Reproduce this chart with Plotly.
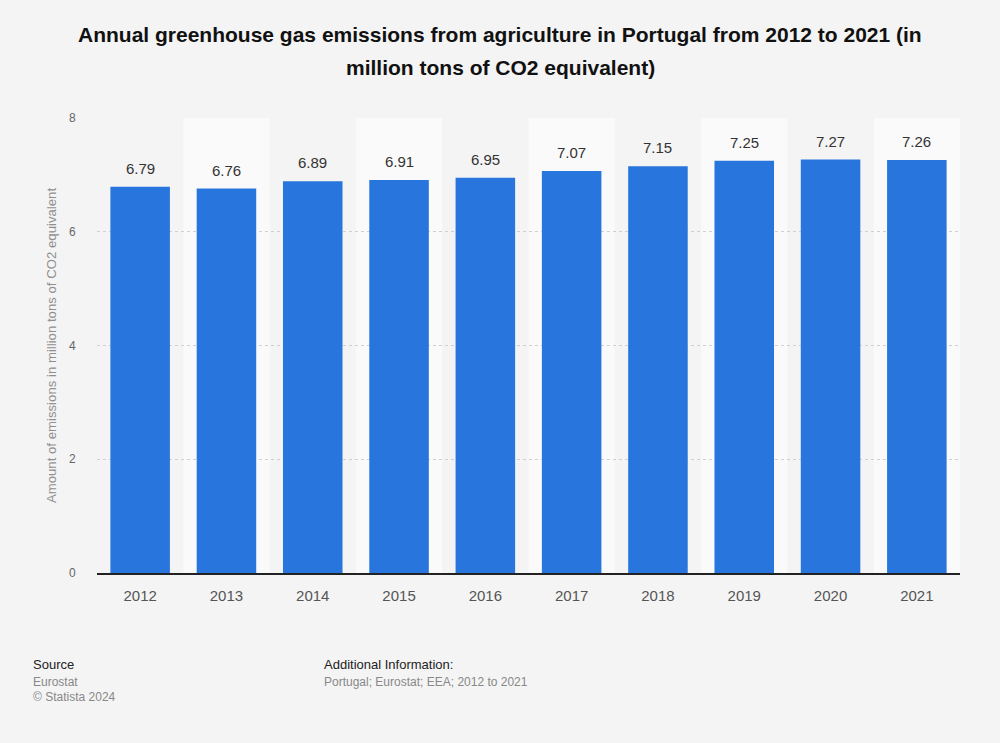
import plotly.graph_objects as go

years = ["2012", "2013", "2014", "2015", "2016", "2017", "2018", "2019", "2020", "2021"]
values = [6.79, 6.76, 6.89, 6.91, 6.95, 7.07, 7.15, 7.25, 7.27, 7.26]
y_ticks = [0, 2, 4, 6, 8]

fig = go.Figure()
fig.add_trace(go.Bar(
    x=years, y=values,
    marker=dict(color="#2876dd", line=dict(width=0)),
    width=0.69,
    cliponaxis=False,
))

for i, v in enumerate(values):
    fig.add_annotation(x=i, y=v, text=f"{v:.2f}", showarrow=False,
                       xref="x", yref="y",
                       yanchor="bottom", yshift=8,
                       font=dict(family="Liberation Sans, Arial", size=15, color="#333333"))

shapes = []
for i in range(len(years)):
    if i % 2 == 1:
        shapes.append(dict(type="rect", xref="x", yref="y", x0=i - 0.5, x1=i + 0.5, y0=0, y1=8,
                           fillcolor="#fafafa", line=dict(width=0), layer="below"))
fig.update_layout(shapes=shapes)

fig.update_layout(
    width=1000, height=743,
    paper_bgcolor="#f4f4f4", plot_bgcolor="#f4f4f4",
    margin=dict(l=97, r=40, t=118, b=170),
    showlegend=False,
    bargap=0.31,
    font=dict(family="Liberation Sans, Arial"),
    xaxis=dict(
        type="category", range=[-0.5, 9.5],
        showgrid=False, showline=True, linecolor="#222222", linewidth=1.5,
        ticks="outside", ticklen=8, tickcolor="rgba(0,0,0,0)",
        tickfont=dict(size=15, color="#555555"),
    ),
    yaxis=dict(
        range=[0, 8], tickvals=y_ticks,
        showgrid=True, gridcolor="#d0d0d0", griddash="dot", gridwidth=1,
        zeroline=False, showline=False,
        ticks="outside", ticklen=18, tickcolor="rgba(0,0,0,0)",
        tickfont=dict(size=12, color="#666666"),
        title=dict(text="Amount of emissions in million tons of CO2 equivalent",
                   font=dict(size=13.2, color="#8f8f8f"), standoff=9),
    ),
)

title_lines = ["Annual greenhouse gas emissions from agriculture in Portugal from 2012 to 2021 (in",
               "million tons of CO2 equivalent)"]
for line, yp in zip(title_lines, [1.183, 1.110]):
    fig.add_annotation(
        text=f"<b>{line}</b>",
        xref="paper", yref="paper", x=0.467, y=yp, xanchor="center", yanchor="middle",
        showarrow=False, font=dict(family="Liberation Sans, Arial", size=21, color="#111111"))

fig.add_annotation(text="Source", xref="paper", yref="paper", x=-0.0765, y=-0.202,
                   xanchor="left", yanchor="middle", showarrow=False,
                   font=dict(size=13, color="#222222"))
fig.add_annotation(text="Eurostat", xref="paper", yref="paper", x=-0.0765, y=-0.240,
                   xanchor="left", yanchor="middle", showarrow=False,
                   font=dict(size=12, color="#888888"))
fig.add_annotation(text="© Statista 2024", xref="paper", yref="paper", x=-0.0765, y=-0.273,
                   xanchor="left", yanchor="middle", showarrow=False,
                   font=dict(size=12, color="#888888"))
fig.add_annotation(text="Additional Information:", xref="paper", yref="paper", x=0.2607, y=-0.202,
                   xanchor="left", yanchor="middle", showarrow=False,
                   font=dict(size=13, color="#222222"))
fig.add_annotation(text="Portugal; Eurostat; EEA; 2012 to 2021", xref="paper", yref="paper", x=0.2607, y=-0.240,
                   xanchor="left", yanchor="middle", showarrow=False,
                   font=dict(size=12, color="#888888"))

fig.write_html("out.html")
